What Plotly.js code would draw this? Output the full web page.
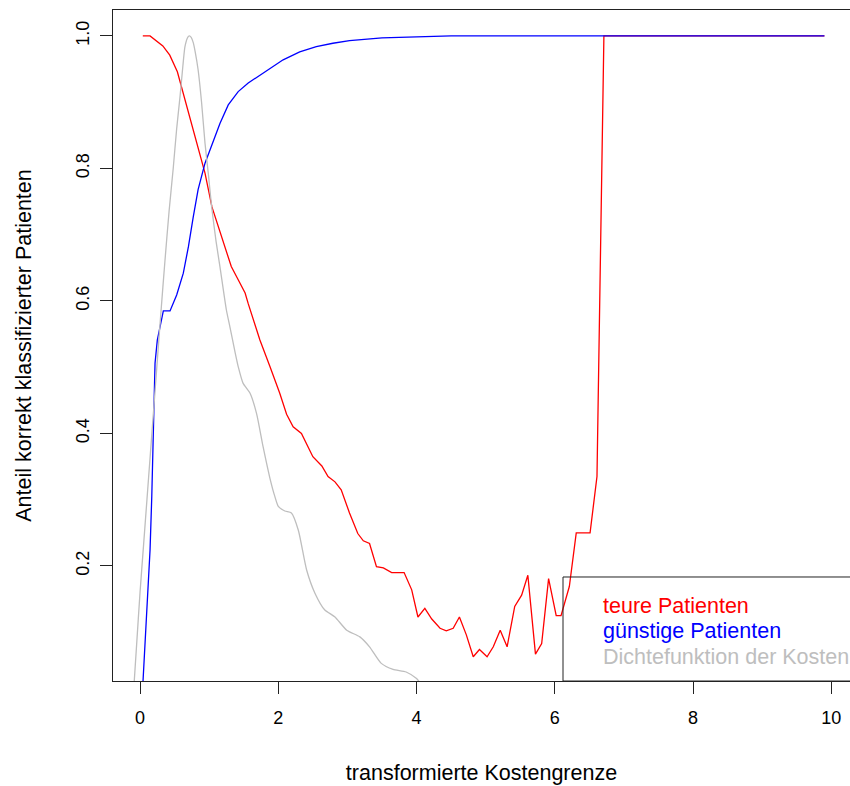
<!DOCTYPE html>
<html>
<head>
<meta charset="utf-8">
<script src="https://cdn.plot.ly/plotly-3.0.1.min.js"></script>
<style>
  html, body { margin: 0; padding: 0; background: #ffffff; }
  #chart { width: 850px; height: 786px; }
</style>
</head>
<body>
<div id="chart"></div>
<script>
// ---- data ----
const teureX = [0.04, 0.145, 0.33, 0.43, 0.54, 0.60, 0.72, 0.84, 0.94, 1.04, 1.16, 1.32, 1.42, 1.52, 1.565, 1.734, 1.879, 2.02, 2.12, 2.215, 2.335, 2.50, 2.63, 2.72, 2.82, 2.91, 3.03, 3.15, 3.23, 3.32, 3.42, 3.52, 3.64, 3.82, 3.93, 4.02, 4.12, 4.22, 4.34, 4.43, 4.53, 4.62, 4.72, 4.82, 4.91, 5.02, 5.11, 5.21, 5.31, 5.42, 5.52, 5.61, 5.72, 5.81, 5.91, 6.02, 6.09, 6.21, 6.31, 6.51, 6.61, 6.71, 9.9];
const teureY = [1.0, 1.0, 0.985, 0.971, 0.946, 0.923, 0.878, 0.828, 0.793, 0.742, 0.703, 0.652, 0.632, 0.612, 0.596, 0.541, 0.501, 0.461, 0.429, 0.410, 0.400, 0.365, 0.351, 0.335, 0.327, 0.315, 0.280, 0.249, 0.238, 0.234, 0.199, 0.197, 0.190, 0.190, 0.164, 0.123, 0.136, 0.120, 0.106, 0.102, 0.106, 0.123, 0.096, 0.063, 0.074, 0.063, 0.078, 0.103, 0.078, 0.139, 0.156, 0.186, 0.067, 0.083, 0.181, 0.125, 0.125, 0.169, 0.250, 0.250, 0.335, 1.0, 1.0];

const guenstigX = [0.04, 0.145, 0.17, 0.19, 0.217, 0.25, 0.337, 0.434, 0.53, 0.626, 0.70, 0.77, 0.84, 0.94, 1.036, 1.156, 1.276, 1.42, 1.565, 1.734, 1.93, 2.07, 2.31, 2.55, 2.79, 3.03, 3.5, 4.0, 4.5, 9.9];
const guenstigY = [0.02, 0.224, 0.305, 0.375, 0.506, 0.541, 0.585, 0.585, 0.609, 0.642, 0.682, 0.727, 0.768, 0.808, 0.835, 0.868, 0.896, 0.916, 0.929, 0.941, 0.954, 0.964, 0.976, 0.984, 0.989, 0.993, 0.997, 0.999, 1.0, 1.0];

const dichteX = [-0.10, -0.05, 0.00, 0.05, 0.10, 0.15, 0.20, 0.25, 0.30, 0.36, 0.42, 0.48, 0.53, 0.58, 0.62, 0.65, 0.69, 0.712, 0.74, 0.77, 0.80, 0.84, 0.89, 0.94, 0.99, 1.036, 1.10, 1.156, 1.25, 1.30, 1.37, 1.42, 1.49, 1.59, 1.686, 1.78, 1.88, 1.95, 2.0, 2.095, 2.19, 2.29, 2.41, 2.53, 2.67, 2.82, 2.99, 3.18, 3.32, 3.49, 3.66, 3.85, 4.0, 4.1, 4.3];
const dichteY = [0.0, 0.08, 0.16, 0.23, 0.30, 0.37, 0.44, 0.51, 0.58, 0.66, 0.735, 0.80, 0.86, 0.91, 0.955, 0.984, 0.998, 1.0, 0.998, 0.99, 0.975, 0.949, 0.90, 0.838, 0.79, 0.742, 0.69, 0.652, 0.586, 0.561, 0.525, 0.501, 0.476, 0.461, 0.430, 0.380, 0.332, 0.305, 0.290, 0.283, 0.280, 0.254, 0.194, 0.159, 0.134, 0.123, 0.103, 0.093, 0.078, 0.053, 0.044, 0.040, 0.030, 0.018, 0.008];

const xTicks = [0, 2, 4, 6, 8, 10];
const yTicks = [0.2, 0.4, 0.6, 0.8, 1.0];
const legendLabels = ["teure Patienten", "günstige Patienten", "Dichtefunktion der Kosten"];
const xTitle = "transformierte Kostengrenze";
const yTitle = "Anteil korrekt klassifizierter Patienten";

// ---- styling ----
const RED = "#FF0000", BLUE = "#0000FF", GRAY = "#BEBEBE";
const FONT = "Liberation Sans, Arial, Helvetica, sans-serif";

const traces = [
  { x: teureX, y: teureY, type: "scatter", mode: "lines", line: { color: RED, width: 1.3 }, name: legendLabels[0] },
  { x: guenstigX, y: guenstigY, type: "scatter", mode: "lines", line: { color: BLUE, width: 1.3 }, name: legendLabels[1] },
  { x: dichteX, y: dichteY, type: "scatter", mode: "lines", line: { color: GRAY, width: 1.3, shape: "spline", smoothing: 0.6 }, name: legendLabels[2] }
];

const legendColors = [RED, BLUE, GRAY];
const legendYs = [0.1118, 0.0745, 0.0358];
const annotations = legendLabels.map((t, i) => ({
  text: t, xref: "paper", yref: "paper", x: 0.6621, y: legendYs[i],
  xanchor: "left", yanchor: "middle", showarrow: false,
  font: { family: FONT, size: 21.5, color: legendColors[i] }
}));

const layout = {
  width: 850, height: 786,
  margin: { l: 113, r: 0, t: 10, b: 105, pad: 0 },
  paper_bgcolor: "#ffffff", plot_bgcolor: "#ffffff",
  showlegend: false,
  font: { family: FONT, color: "#000000" },
  xaxis: {
    range: [-0.391, 10.27], tickvals: xTicks, ticktext: xTicks.map(String),
    showgrid: false, zeroline: false, showline: true, mirror: true,
    linecolor: "#222222", linewidth: 1, ticks: "outside", ticklen: 12, tickwidth: 1, tickcolor: "#222222",
    tickfont: { family: FONT, size: 18, color: "#000000" }, ticklabelstandoff: 8,
    title: { text: xTitle, font: { family: FONT, size: 21.5, color: "#000000" }, standoff: 38 },
    automargin: false
  },
  yaxis: {
    range: [0.0264, 1.0392], tickvals: yTicks, ticktext: yTicks.map(v => v.toFixed(1)),
    tickangle: -90,
    showgrid: false, zeroline: false, showline: true, mirror: false,
    linecolor: "#222222", linewidth: 1, ticks: "outside", ticklen: 12, tickwidth: 1, tickcolor: "#222222",
    tickfont: { family: FONT, size: 18, color: "#000000" }, ticklabelstandoff: 4,
    title: { text: yTitle, font: { family: FONT, size: 21.5, color: "#000000" }, standoff: 35 },
    automargin: false
  },
  shapes: [
    { type: "rect", xref: "paper", yref: "paper", x0: 0.6106, x1: 1.05, y0: 0, y1: 0.155,
      line: { color: "#222222", width: 1 }, fillcolor: "rgba(0,0,0,0)", layer: "above" }
  ],
  annotations: annotations
};

Plotly.newPlot("chart", traces, layout, { staticPlot: true, displayModeBar: false });
</script>
</body>
</html>
